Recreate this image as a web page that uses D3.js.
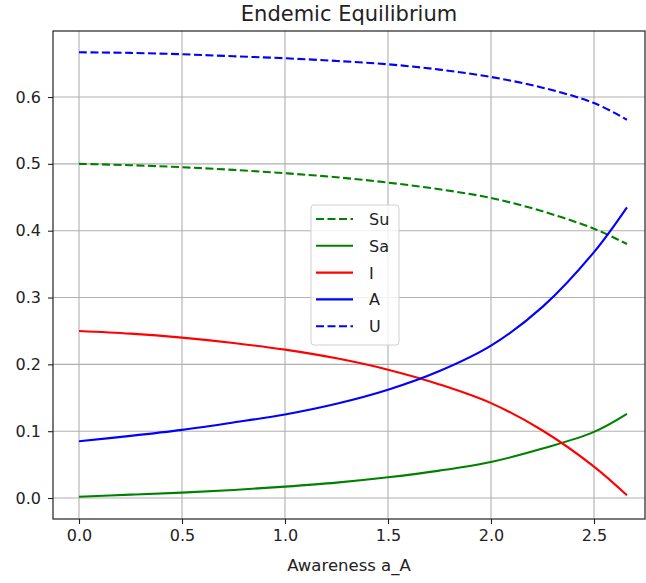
<!DOCTYPE html>
<html>
<head>
<meta charset="utf-8">
<script src="https://cdn.jsdelivr.net/npm/d3@7"></script>
<style>
  body { margin: 0; background: #fff; }
  svg { font-family: "DejaVu Sans", sans-serif; }
</style>
</head>
<body>
<div id="chart"></div>
<script>
// values
const awareness = [0, 0.25, 0.5, 0.75, 1.0, 1.25, 1.5, 1.75, 2.0, 2.25, 2.5, 2.66];
const Su = [0.500, 0.498, 0.495, 0.491, 0.486, 0.480, 0.472, 0.462, 0.449, 0.429, 0.403, 0.380];
const Sa = [0.002, 0.005, 0.008, 0.012, 0.017, 0.023, 0.031, 0.041, 0.054, 0.074, 0.099, 0.126];
const I  = [0.250, 0.246, 0.240, 0.232, 0.222, 0.209, 0.192, 0.170, 0.142, 0.101, 0.047, 0.004];
const A  = [0.085, 0.093, 0.102, 0.113, 0.125, 0.141, 0.162, 0.190, 0.228, 0.286, 0.368, 0.435];
const U  = [0.667, 0.666, 0.664, 0.661, 0.658, 0.654, 0.649, 0.641, 0.630, 0.614, 0.591, 0.566];

const xTicks = [0, 0.5, 1.0, 1.5, 2.0, 2.5];
const yTicks = [0, 0.1, 0.2, 0.3, 0.4, 0.5, 0.6];

const series = [
  { name: "Su", values: Su, color: "#008000", dashed: true },
  { name: "Sa", values: Sa, color: "#008000", dashed: false },
  { name: "I",  values: I,  color: "#ff0000", dashed: false },
  { name: "A",  values: A,  color: "#0000ff", dashed: false },
  { name: "U",  values: U,  color: "#0000ff", dashed: true }
];

const width = 646, height = 583;
const plotLeft = 53, plotRight = 645, plotTop = 31, plotBottom = 519;

const svg = d3.select("#chart").append("svg")
  .attr("width", width)
  .attr("height", height);

const xScale = d3.scaleLinear()
  .domain([-0.1262, 2.7476])
  .range([plotLeft, plotRight]);

const yScale = d3.scaleLinear()
  .domain([-0.0314, 0.6988])
  .range([plotBottom, plotTop]);

// grid
svg.append("g")
  .selectAll("line")
  .data(xTicks)
  .enter().append("line")
  .attr("x1", d => xScale(d)).attr("x2", d => xScale(d))
  .attr("y1", plotTop).attr("y2", plotBottom)
  .attr("stroke", "#b0b0b0").attr("stroke-width", 1.1);

svg.append("g")
  .selectAll("line")
  .data(yTicks)
  .enter().append("line")
  .attr("x1", plotLeft).attr("x2", plotRight)
  .attr("y1", d => yScale(d)).attr("y2", d => yScale(d))
  .attr("stroke", "#b0b0b0").attr("stroke-width", 1.1);

// lines
const line = d3.line()
  .x(d => xScale(d[0]))
  .y(d => yScale(d[1]))
  .curve(d3.curveCatmullRom.alpha(0.5));

svg.append("g")
  .selectAll("path")
  .data(series)
  .enter().append("path")
  .attr("d", s => line(awareness.map((x, i) => [x, s.values[i]])))
  .attr("fill", "none")
  .attr("stroke", s => s.color)
  .attr("stroke-width", 2.1)
  .attr("stroke-dasharray", s => s.dashed ? "8,3.5" : null);

// axes
const xAxis = svg.append("g")
  .attr("transform", `translate(0, ${plotBottom})`)
  .call(d3.axisBottom(xScale).tickValues(xTicks).tickFormat(d3.format(".1f"))
    .tickSize(5).tickPadding(6));

const yAxis = svg.append("g")
  .attr("transform", `translate(${plotLeft}, 0)`)
  .call(d3.axisLeft(yScale).tickValues(yTicks).tickFormat(d3.format(".1f"))
    .tickSize(5).tickPadding(7));

[xAxis, yAxis].forEach(g => {
  g.select(".domain").remove();
  g.selectAll(".tick line").attr("stroke", "#222").attr("stroke-width", 1.1);
  g.selectAll(".tick text")
    .attr("fill", "#222")
    .style("font-size", "16px")
    .style("font-family", "DejaVu Sans");
});

// frame
svg.append("rect")
  .attr("x", plotLeft).attr("y", plotTop)
  .attr("width", plotRight - plotLeft).attr("height", plotBottom - plotTop)
  .attr("fill", "none")
  .attr("stroke", "#222")
  .attr("stroke-width", 1.2);

// title and axis label
svg.append("text")
  .attr("x", (plotLeft + plotRight) / 2)
  .attr("y", 21)
  .attr("text-anchor", "middle")
  .attr("fill", "#222")
  .style("font-size", "21px")
  .text("Endemic Equilibrium");

svg.append("text")
  .attr("x", (plotLeft + plotRight) / 2)
  .attr("y", 571)
  .attr("text-anchor", "middle")
  .attr("fill", "#222")
  .style("font-size", "16.5px")
  .text("Awareness a_A");

// legend
const legend = svg.append("g");
legend.append("rect")
  .attr("x", 311).attr("y", 205)
  .attr("width", 88).attr("height", 140)
  .attr("rx", 3)
  .attr("fill", "#fff").attr("fill-opacity", 0.8)
  .attr("stroke", "#d0d0d0");

const rows = legend.selectAll("g.row")
  .data(series)
  .enter().append("g")
  .attr("class", "row")
  .attr("transform", (s, i) => `translate(0, ${219 + i * 26.8})`);

rows.append("line")
  .attr("x1", 316).attr("x2", 353)
  .attr("y1", 0).attr("y2", 0)
  .attr("stroke", s => s.color)
  .attr("stroke-width", 2.1)
  .attr("stroke-dasharray", s => s.dashed ? "8,3.5" : null);

rows.append("text")
  .attr("x", 369)
  .attr("y", 6)
  .attr("fill", "#222")
  .style("font-size", "16px")
  .text(s => s.name);
</script>
</body>
</html>
